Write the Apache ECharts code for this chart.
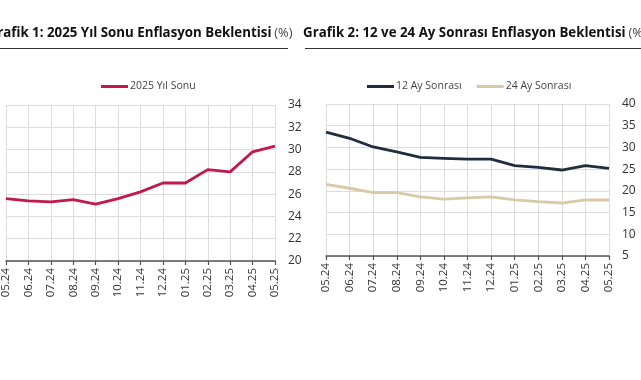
<!DOCTYPE html>
<html><head><meta charset="utf-8">
<script src="https://cdn.jsdelivr.net/npm/echarts@6/dist/echarts.min.js"></script>
<style>html,body{margin:0;padding:0;background:#fff;overflow:hidden}#c{width:641px;height:380px}</style>
</head><body><div id="c"></div><script>
const categories = ['05.24','06.24','07.24','08.24','09.24','10.24','11.24','12.24','01.25','02.25','03.25','04.25','05.25'];
const yilSonu2025 = [25.6, 25.4, 25.3, 25.5, 25.1, 25.6, 26.2, 27.0, 27.0, 28.2, 28.0, 29.8, 30.3];
const ay12Sonrasi = [33.5, 32.1, 30.1, 29.0, 27.7, 27.5, 27.3, 27.3, 25.8, 25.4, 24.8, 25.8, 25.2];
const ay24Sonrasi = [21.5, 20.6, 19.6, 19.6, 18.6, 18.1, 18.4, 18.6, 17.9, 17.5, 17.2, 17.9, 17.9];
const y1Ticks = ['20','22','24','26','28','30','32','34'];
const y2Ticks = ['5','10','15','20','25','30','35','40'];
const title1 = 'Grafik 1: 2025 Yıl Sonu Enflasyon Beklentisi';
const title2 = 'Grafik 2: 12 ve 24 Ay Sonrası Enflasyon Beklentisi';
const unit = '(%)';

const FONT = '"Open Sans", sans-serif';
const chart = echarts.init(document.getElementById('c'), null, {renderer: 'canvas'});

function xAxis(gi) {
  return {
    type: 'category', gridIndex: gi, data: categories, boundaryGap: false,
    axisLine: {lineStyle: {color: '#555', width: 1.5}},
    axisTick: {show: true, length: 4, lineStyle: {color: '#555', width: 1.2}},
    axisLabel: {rotate: 90, interval: 0, color: '#333', fontFamily: FONT, fontSize: 11.5, margin: 7},
    splitLine: {show: true, interval: 0, lineStyle: {color: '#dcdcdc', width: 1}}
  };
}
function yAxis(gi, ticks) {
  const mn = Number(ticks[0]), mx = Number(ticks[ticks.length - 1]);
  return {
    type: 'value', gridIndex: gi, position: 'right', min: mn, max: mx, interval: (mx - mn) / (ticks.length - 1),
    axisLine: {show: false}, axisTick: {show: false},
    axisLabel: {color: '#333', fontFamily: FONT, fontSize: 12, margin: 13},
    splitLine: {show: true, lineStyle: {color: '#dcdcdc', width: 1}}
  };
}
const legendText = {color: '#444', fontFamily: FONT, fontSize: 10.5, padding: [0, 0, 0, -3]};
const titleRich = {b: {fontFamily: FONT, fontWeight: 'bold', fontSize: 14, fill: '#111'},
                   n: {fontFamily: FONT, fontSize: 13.5, fill: '#444', padding: [0, 0, 0, 3]}};

chart.setOption({
  animation: false,
  backgroundColor: '#fff',
  graphic: [
    {type: 'text', x: -12.5, y: 33, scaleX: 0.95, style: {
      text: '{b|' + title1 + '}{n|' + unit + '}', verticalAlign: 'middle', rich: titleRich}},
    {type: 'text', x: 303, y: 33, scaleX: 0.95, style: {
      text: '{b|' + title2 + '}{n|' + unit + '}', verticalAlign: 'middle', rich: titleRich}},
    {type: 'line', shape: {x1: 0, y1: 48.5, x2: 288, y2: 48.5}, style: {stroke: '#333', lineWidth: 1}},
    {type: 'line', shape: {x1: 305, y1: 48.5, x2: 641, y2: 48.5}, style: {stroke: '#333', lineWidth: 1}}
  ],
  legend: [
    {left: 101, top: 81, padding: 0, itemWidth: 27, itemHeight: 3, icon: 'rect', data: ['2025 Yıl Sonu'], textStyle: legendText},
    {left: 367, top: 81, padding: 0, itemWidth: 27, itemHeight: 3, icon: 'rect', itemGap: 15, data: ['12 Ay Sonrası', '24 Ay Sonrası'], textStyle: legendText}
  ],
  grid: [
    {left: 0, right: 366, top: 105, bottom: 119, containLabel: false},
    {left: 326, right: 32, top: 104, bottom: 124, containLabel: false}
  ],
  xAxis: [xAxis(0), xAxis(1)],
  yAxis: [yAxis(0, y1Ticks), yAxis(1, y2Ticks)],
  series: [
    {name: '2025 Yıl Sonu', type: 'line', xAxisIndex: 0, yAxisIndex: 0, data: yilSonu2025, symbol: 'none',
     color: '#c2184a', lineStyle: {width: 2.8, color: '#c2184a'}},
    {name: '12 Ay Sonrası', type: 'line', xAxisIndex: 1, yAxisIndex: 1, data: ay12Sonrasi, symbol: 'none',
     color: '#1f2d3f', lineStyle: {width: 2.8, color: '#1f2d3f'}},
    {name: '24 Ay Sonrası', type: 'line', xAxisIndex: 1, yAxisIndex: 1, data: ay24Sonrasi, symbol: 'none',
     color: '#d9c9a6', lineStyle: {width: 2.8, color: '#d9c9a6'}}
  ]
});
</script></body></html>
